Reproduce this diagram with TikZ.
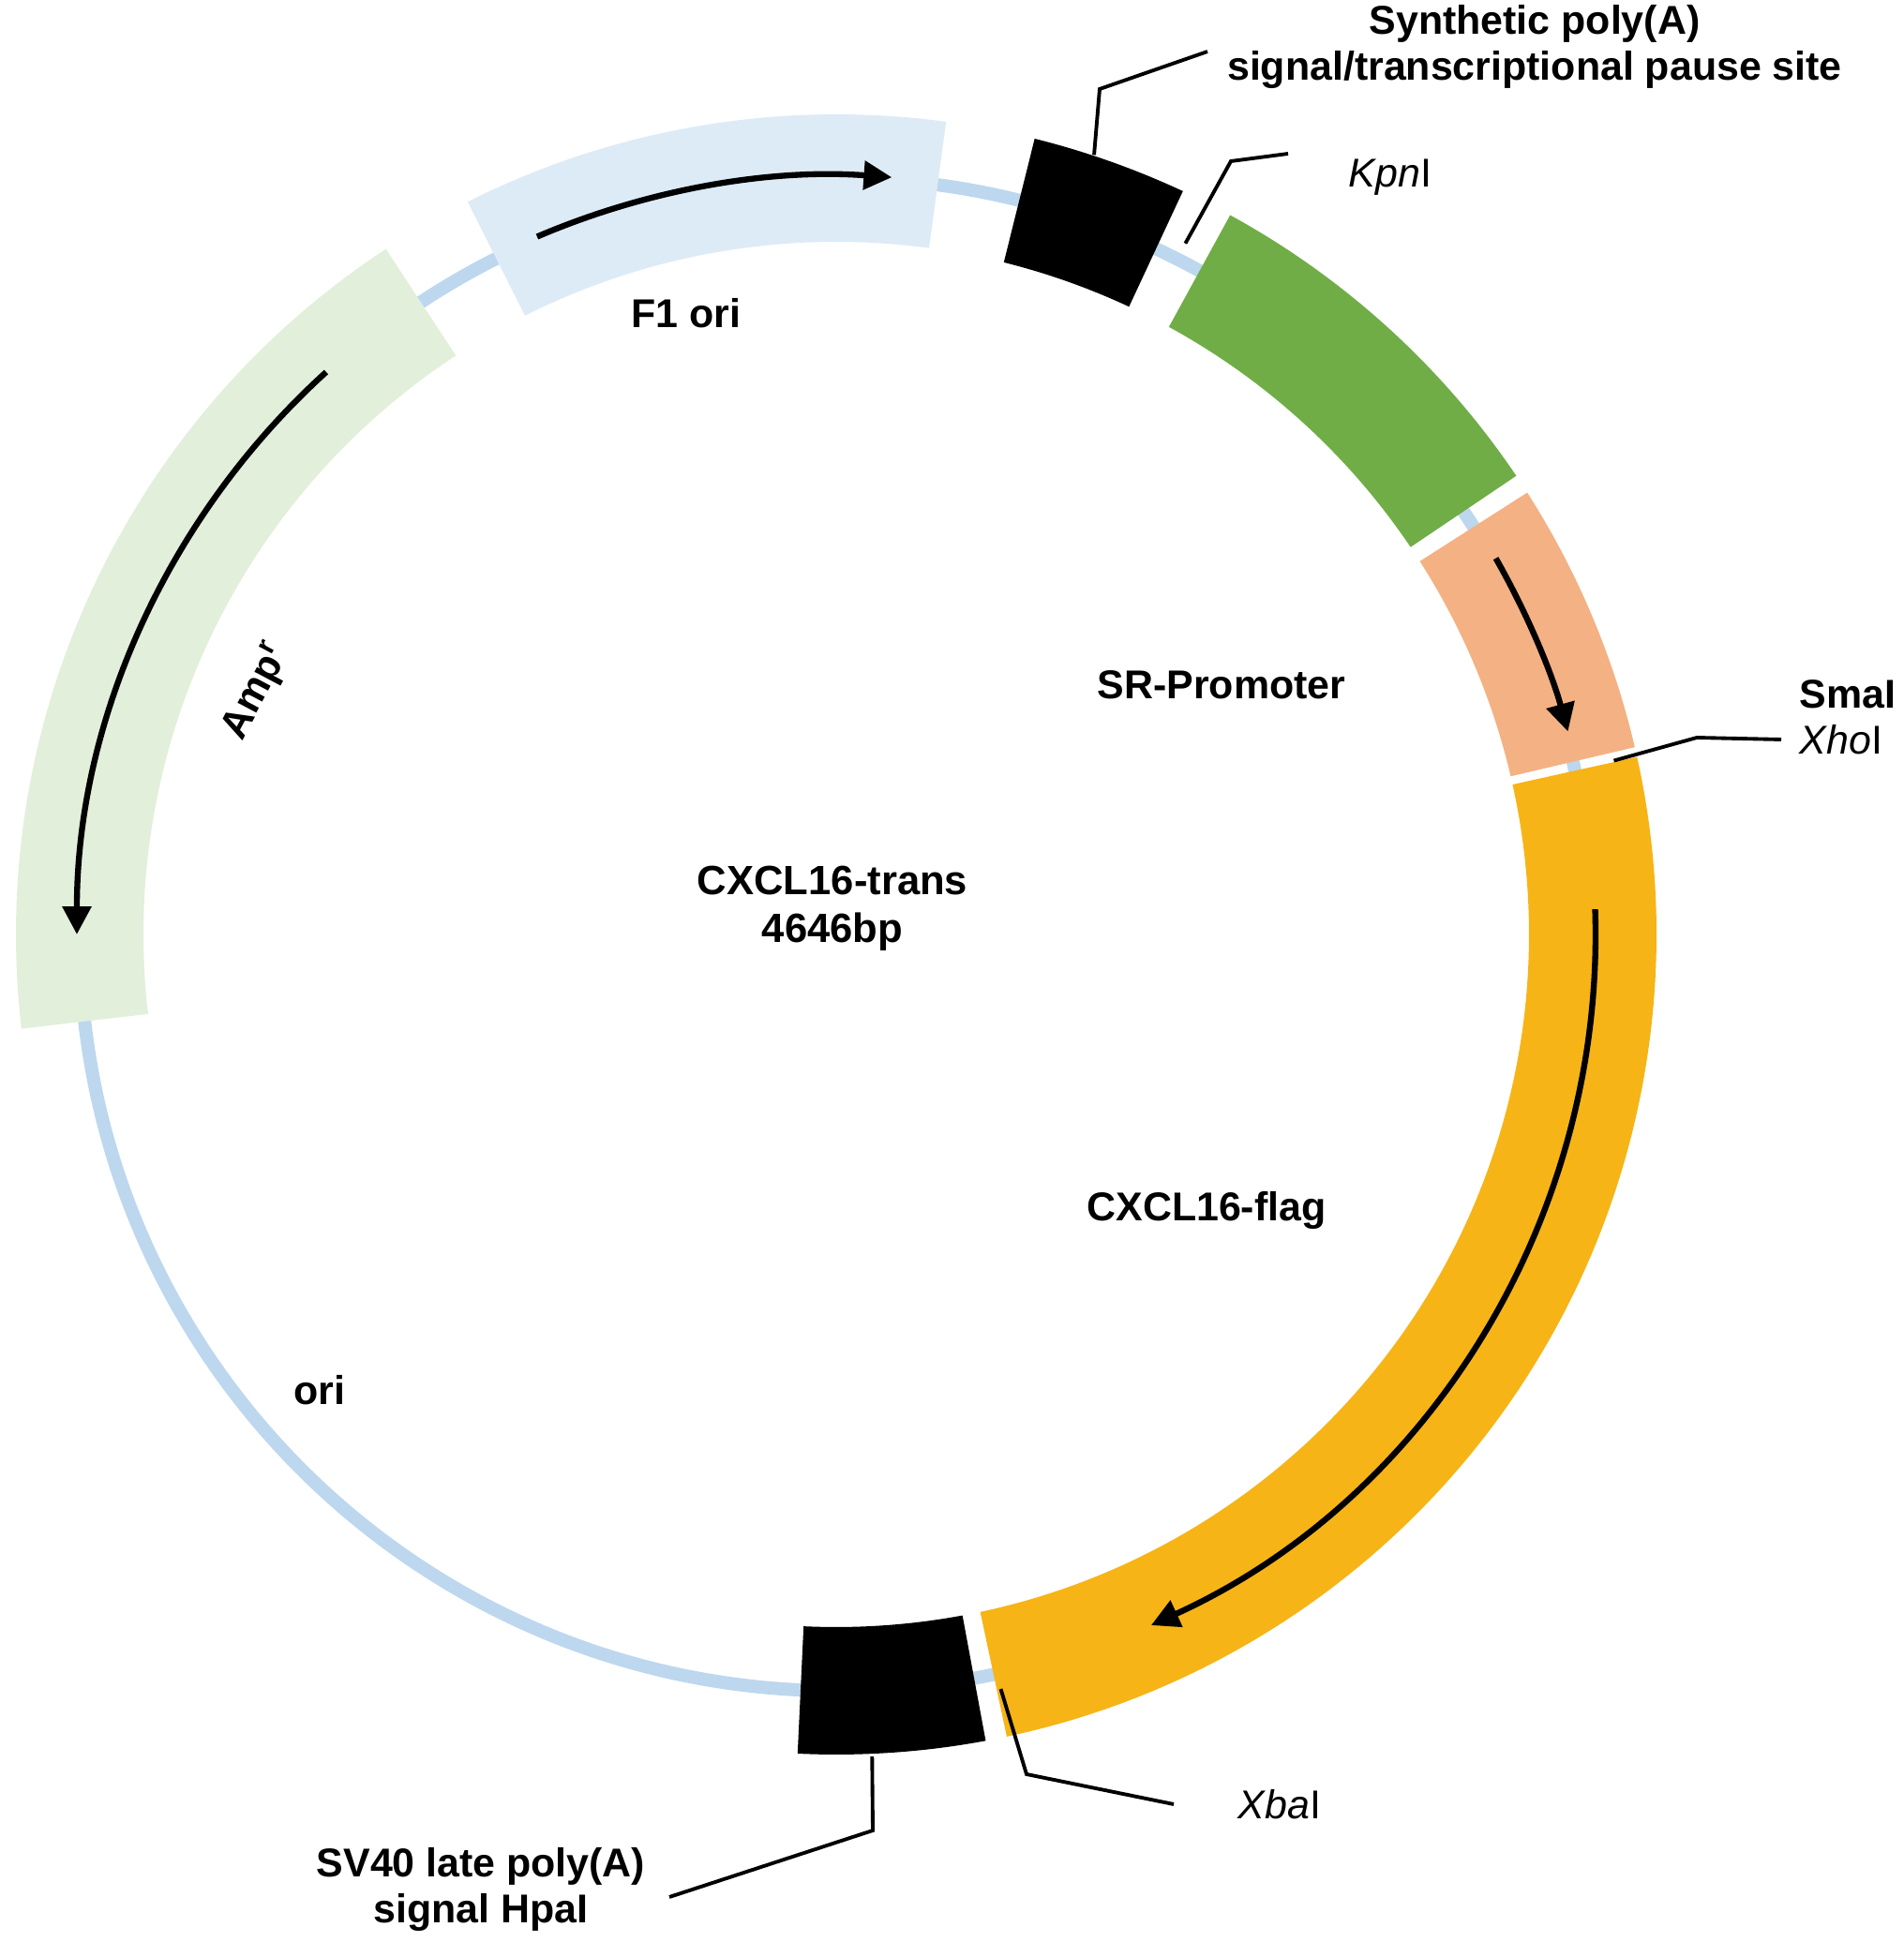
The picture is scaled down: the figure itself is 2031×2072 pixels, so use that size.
\documentclass[tikz,border=0pt]{standalone}
\usepackage{fontspec}
\setmainfont{Liberation Sans}
\usetikzlibrary{arrows.meta}

\definecolor{backbone}{RGB}{189,215,238}
\definecolor{foneblue}{RGB}{221,235,247}
\definecolor{ampgreen}{RGB}{226,239,218}
\definecolor{srgreen}{RGB}{112,173,71}
\definecolor{srsalmon}{RGB}{244,177,131}
\definecolor{cxclgold}{RGB}{246,180,22}

% annular piece of the ring: start angle, end angle, colour
\newcommand{\feature}[3]{%
  \fill[#3] (#1:739) arc[start angle=#1, end angle=#2, radius=739]
    -- (#2:875) arc[start angle=#2, end angle=#1, radius=875] -- cycle;}

\begin{document}
\begin{tikzpicture}[x=0.01cm, y=0.01cm,
  lab/.style={font=\fontsize{12.2}{13.8}\selectfont\bfseries, align=center, inner sep=0pt},
  site/.style={font=\fontsize{12.2}{13.8}\selectfont, inner sep=0pt},
  leader/.style={line width=1.1pt},
  dir/.style={line width=1.8pt, -{Triangle[length=8.5pt, width=8.5pt]}}
]
\useasboundingbox (0,0) rectangle (2031,2072);

% ring with its features
\begin{scope}[shift={(892,1075)}]
\draw[backbone, line width=4pt] (0,0) circle[radius=807];
\feature{82.3}{116.7}{foneblue}
\feature{123.3}{186.6}{ampgreen}
\feature{65}{76}{black}
\feature{34}{61.3}{srgreen}
\feature{13.2}{32.6}{srsalmon}
\feature{-78}{12.5}{cxclgold}
\feature{-92.7}{-79.5}{black}
% reading direction
\draw[dir] (113.2:810) arc[start angle=113.2, end angle=85.8, radius=810];
\draw[dir] (132.2:810) arc[start angle=132.2, end angle=180, radius=810];
\draw[dir] (29.7:810) arc[start angle=29.7, end angle=15.5, radius=810];
\draw[dir] (1.9:810) arc[start angle=1.9, end angle=-65.5, radius=810];
% sites on the ring
\coordinate (synpA) at (71.7:876);
\coordinate (kpn) at (63.2:826);
\coordinate (smaxho) at (12.6:850);
\coordinate (xba) at (-77.7:824);
\coordinate (svpA) at (-87.5:878);
\end{scope}

% labels
\node[lab] (synlab) at (1637,2022) {Synthetic poly(A)\\signal/transcriptional pause site};
\node[site] (kpnlab) at (1483,1883) {\textit{Kpn}I};
\node[site, anchor=west, align=left] (smalab) at (1919,1307) {\textbf{SmaI}\\\textit{Xho}I};
\node[site] (xbalab) at (1365,147) {\textit{Xba}I};
\node[lab] (svlab) at (513,56) {SV40 late poly(A)\\signal HpaI};
\node[lab] (f1lab) at (732,1738) {F1 ori};
\node[lab, rotate=62] (amplab) at (274,1334) {Amp\textsuperscript{r}};
\node[lab] (srlab) at (1303,1341) {SR-Promoter};
\node[lab, font=\fontsize{12.4}{14.4}\selectfont\bfseries] (title) at (888,1103) {CXCL16-trans\\4646bp};
\node[lab] (cxcllab) at (1287,780) {CXCL16-flag};
\node[lab] (orilab) at (341,589) {ori};

% leader lines
\coordinate (synend) at (1288,2017);
\coordinate (kpnend) at (1374,1908);
\coordinate (smaend) at (1900,1283);
\coordinate (xbaend) at (1252,147);
\coordinate (svend) at (714,48);
\draw[leader] (synpA) -- (1173,1977) -- (synend);
\draw[leader] (kpn) -- (1313,1900) -- (kpnend);
\draw[leader] (smaxho) -- (1810,1285) -- (smaend);
\draw[leader] (xba) -- (1095,179) -- (xbaend);
\draw[leader] (svpA) -- (931,119) -- (svend);
\end{tikzpicture}
\end{document}
